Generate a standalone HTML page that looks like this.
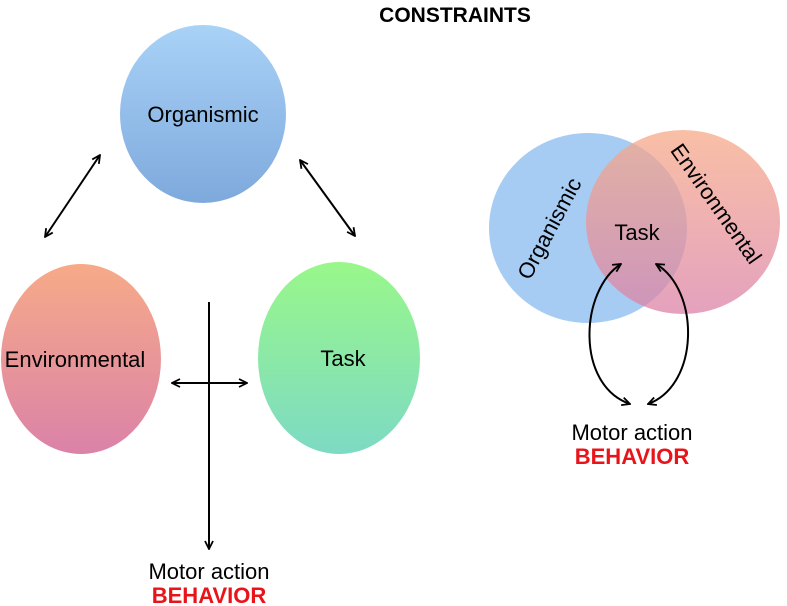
<!DOCTYPE html>
<html><head><meta charset="utf-8"><style>
html,body{margin:0;padding:0;background:#fff;}
svg{display:block;font-family:"Liberation Sans",sans-serif;}
</style></head><body>
<svg width="787" height="606" viewBox="0 0 787 606" xmlns="http://www.w3.org/2000/svg">
<defs>
<linearGradient id="gb" x1="0" y1="0" x2="0" y2="1"><stop offset="0" stop-color="#a9d2f7"/><stop offset="1" stop-color="#7ea9dc"/></linearGradient>
<linearGradient id="go" x1="0" y1="0" x2="0" y2="1"><stop offset="0" stop-color="#f7aa88"/><stop offset="1" stop-color="#db82a8"/></linearGradient>
<linearGradient id="gg" x1="0" y1="0" x2="0" y2="1"><stop offset="0" stop-color="#99f78a"/><stop offset="1" stop-color="#7ddac4"/></linearGradient>
<marker id="ah" viewBox="0 0 10 10" refX="9" refY="5" markerWidth="10" markerHeight="10" orient="auto-start-reverse" markerUnits="userSpaceOnUse">
<path d="M1,1 L9,5 L1,9" fill="none" stroke="#000" stroke-width="1.8"/></marker>
</defs>
<text x="455" y="22" font-size="21" font-weight="bold" text-anchor="middle">CONSTRAINTS</text>

<ellipse cx="203" cy="114" rx="83" ry="89" fill="url(#gb)"/>
<text x="203" y="122" font-size="22" text-anchor="middle">Organismic</text>
<ellipse cx="81" cy="359" rx="80" ry="95" fill="url(#go)"/>
<text x="75" y="367" font-size="22" text-anchor="middle">Environmental</text>
<ellipse cx="339" cy="358" rx="81" ry="96" fill="url(#gg)"/>
<text x="343" y="366" font-size="22" text-anchor="middle">Task</text>

<g stroke="#000" stroke-width="2" fill="none">
<line x1="100" y1="155" x2="45" y2="237" marker-start="url(#ah)" marker-end="url(#ah)"/>
<line x1="300" y1="160" x2="355" y2="236" marker-start="url(#ah)" marker-end="url(#ah)"/>
<line x1="172" y1="383" x2="247" y2="383" marker-start="url(#ah)" marker-end="url(#ah)"/>
<line x1="209" y1="302" x2="209" y2="549" marker-end="url(#ah)"/>
</g>
<text x="209" y="579" font-size="22" text-anchor="middle">Motor action</text>
<text x="209" y="603" font-size="22" font-weight="bold" fill="#e8141a" text-anchor="middle">BEHAVIOR</text>

<ellipse cx="588" cy="228" rx="99" ry="95" fill="#9cc6f2" opacity="0.9"/>
<ellipse cx="683" cy="222" rx="97" ry="92" fill="url(#go)" opacity="0.75"/>
<text x="637" y="240" font-size="22" text-anchor="middle">Task</text>
<text x="0" y="0" font-size="22" text-anchor="middle" transform="translate(556,232) rotate(-62)">Organismic</text>
<text x="0" y="0" font-size="22" text-anchor="middle" transform="translate(710,208) rotate(55)">Environmental</text>
<g stroke="#000" stroke-width="2" fill="none">
<path d="M621,264 C580,290 575,385 630,404" marker-start="url(#ah)" marker-end="url(#ah)"/>
<path d="M656,264 C700,290 700,385 648,404" marker-start="url(#ah)" marker-end="url(#ah)"/>
</g>
<text x="632" y="440" font-size="22" text-anchor="middle">Motor action</text>
<text x="632" y="464" font-size="22" font-weight="bold" fill="#e8141a" text-anchor="middle">BEHAVIOR</text>
</svg>
</body></html>
